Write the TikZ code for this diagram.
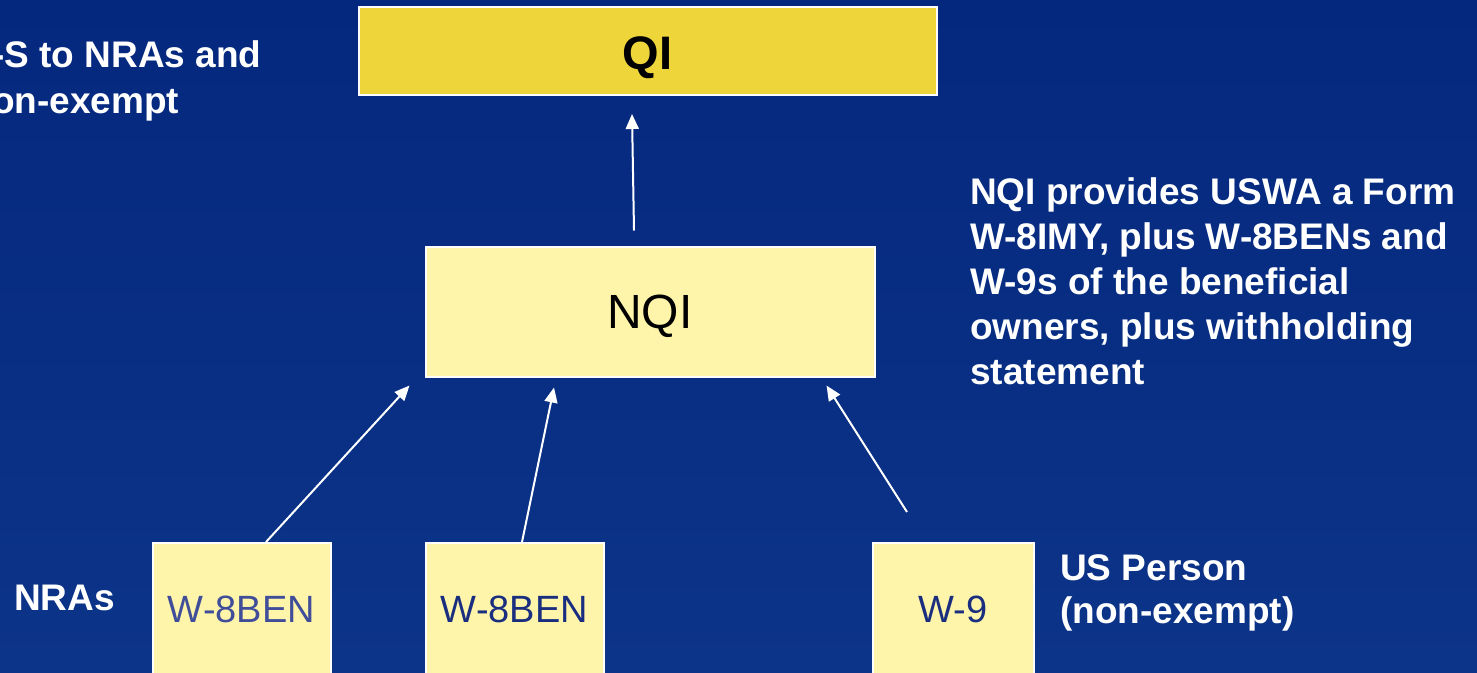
\documentclass[tikz,border=0pt]{standalone}
\usepackage{fontspec}
\setmainfont{Liberation Sans}
\usetikzlibrary{arrows.meta}
\definecolor{bgtop}{RGB}{4,40,126}
\definecolor{bgbot}{RGB}{12,52,136}
\definecolor{qiyel}{RGB}{238,214,58}
\definecolor{paleyel}{RGB}{255,245,170}
\definecolor{formblue}{RGB}{26,46,128}
\definecolor{formblue2}{RGB}{64,78,154}
\tikzset{
  box/.style={draw=white, line width=2pt, inner sep=0pt},
  arr/.style={draw=white, line width=2pt, -{Triangle[width=13pt,length=15pt]}},
  wtext/.style={text=white, font=\bfseries\fontsize{37}{45}\selectfont, align=left, inner sep=0pt},
  formtext/.style={font=\fontsize{38}{44}\selectfont}
}
\begin{document}
\begin{tikzpicture}[x=1pt,y=-1pt]
\useasboundingbox (0,0) rectangle (1477,672);
\clip (0,0) rectangle (1477,672);
\shade[top color=bgtop, bottom color=bgbot] (0,0) rectangle (1477,672);
% boxes
\node[box, fill=qiyel, minimum width=578pt, minimum height=88pt, text height=36pt, text depth=0pt, font=\bfseries\fontsize{47}{50}\selectfont] (qi) at (647.5,51) {QI};
\node[box, fill=paleyel, minimum width=449pt, minimum height=130pt, text height=34pt, text depth=0pt, font=\fontsize{48}{52}\selectfont] (nqi) at (650,311.5) {NQI};
\node[box, fill=paleyel, minimum width=178pt, minimum height=132pt, formtext, text=formblue2] (w1) at (241.5,609) {W-8BEN};
\node[box, fill=paleyel, minimum width=178pt, minimum height=132pt, formtext, text=formblue] (w2) at (514.5,609) {W-8BEN};
\node[box, fill=paleyel, minimum width=161pt, minimum height=132pt, formtext, text=formblue] (w9) at (953,609) {W-9};
% labels
\node[wtext, anchor=west, font=\bfseries\fontsize{37}{46}\selectfont] (lefttop) at (-8,81) {-S to NRAs and\\on-exempt};
\node[wtext, anchor=north west] (desc) at (970,177) {NQI provides USWA a Form\\W-8IMY, plus W-8BENs and\\W-9s of the beneficial\\owners, plus withholding\\statement};
\node[wtext, anchor=west] (nras) at (14,598) {NRAs};
\node[wtext, anchor=west, font=\bfseries\fontsize{37}{43}\selectfont] (usp) at (1060,593) {US Person\\(non-exempt)};
% arrows
\draw[arr] ([xshift=-16pt,yshift=15pt]nqi.north) -- ([xshift=-15.5pt,yshift=-18pt]qi.south);
\draw[arr] ([xshift=24.5pt]w1.north) -- ([xshift=-15pt,yshift=-8pt]nqi.south west);
\draw[arr] ([xshift=7.5pt]w2.north) -- ([xshift=-96pt,yshift=-10pt]nqi.south);
\draw[arr] ([xshift=-46pt,yshift=30pt]w9.north) -- ([xshift=-49pt,yshift=-8pt]nqi.south east);
\end{tikzpicture}
\end{document}
